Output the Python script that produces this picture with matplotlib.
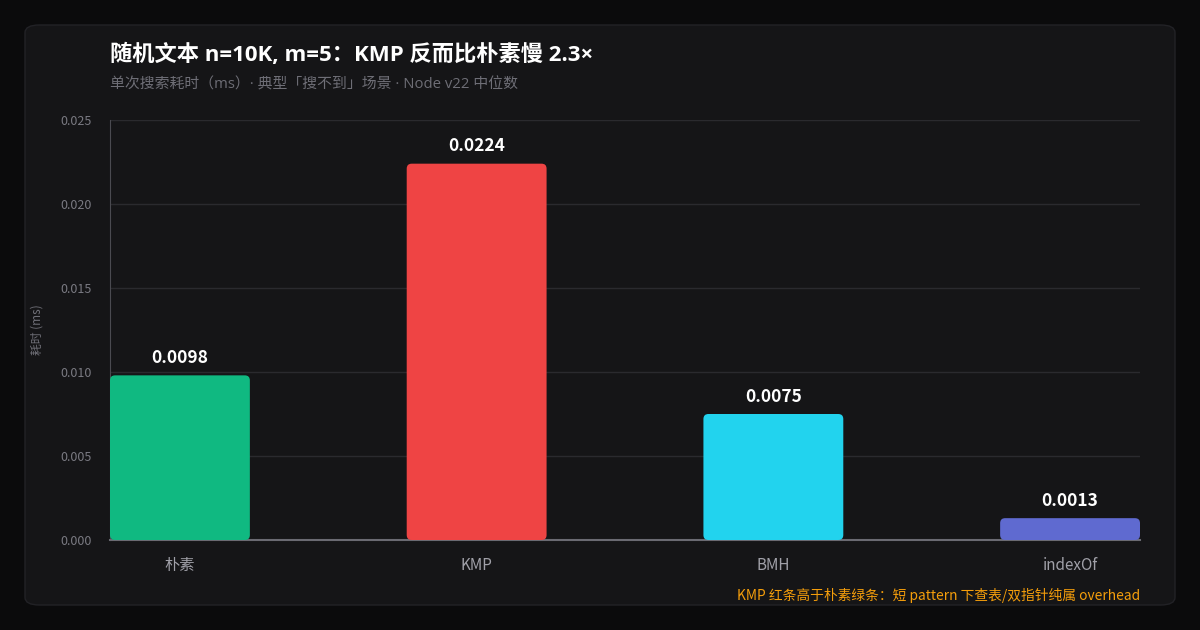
import matplotlib
matplotlib.use('Agg')
import matplotlib.pyplot as plt
from matplotlib.patches import FancyBboxPatch

plt.rcParams['font.family'] = ['Noto Sans CJK SC', 'DejaVu Sans']
MIXED = ['Open Sans', 'Noto Sans CJK SC', 'DejaVu Sans']

# data
algos = ['朴素', 'KMP', 'BMH', 'indexOf']
times_ms = [0.0098, 0.0224, 0.0075, 0.0013]
bar_colors = ['#10b981', '#ef4444', '#22d3ee', '#5f6ad0']
yticks = [0.000, 0.005, 0.010, 0.015, 0.020, 0.025]

fig = plt.figure(figsize=(12, 6.3), dpi=100)
fig.patch.set_facecolor('#0b0b0c')

# card background
card = FancyBboxPatch((25 / 1200, 25 / 630), 1150 / 1200, 580 / 630,
                      boxstyle="round,pad=0,rounding_size=0.012",
                      transform=fig.transFigure, facecolor='#151517',
                      edgecolor='#222226', linewidth=1, zorder=0)
fig.patches.append(card)

ax = fig.add_axes([110 / 1200, 90 / 630, 1030 / 1200, 420 / 630])
ax.set_zorder(2)
ax.set_facecolor('#151517')

bw = 140 / 297
ax.set_xlim(-bw / 2, 3 + bw / 2)
ax.set_ylim(0, 0.025)

# rounded bars
r = 5 / 297
asp = (0.025 / 420) / (1 / 297)
for i, (v, c) in enumerate(zip(times_ms, bar_colors)):
    p = FancyBboxPatch((i - bw / 2, 0), bw, v,
                       boxstyle=f"round,pad=0,rounding_size={r}",
                       mutation_aspect=asp, facecolor=c, edgecolor='none', zorder=3)
    ax.add_patch(p)
    ax.text(i, v + 0.0005, f"{v:.4f}", ha='center', va='bottom',
            color='white', fontsize=12.5, fontweight='bold', zorder=4)

ax.set_xticks(range(len(algos)))
ax.set_xticklabels(algos, color='#a0a0a8', fontsize=11)
ax.set_yticks(yticks)
ax.set_yticklabels([f"{t:.3f}" for t in yticks], color='#7a7a82', fontsize=9)
ax.tick_params(axis='x', length=0, pad=12)
ax.tick_params(axis='y', length=0, pad=13)
ax.grid(axis='y', color='#2a2a2e', linewidth=1, zorder=0)
ax.set_axisbelow(True)

for s in ['top', 'right']:
    ax.spines[s].set_visible(False)
ax.spines['left'].set_color('#4a4a50')
ax.spines['bottom'].set_color('#6a6a72')
ax.spines['bottom'].set_linewidth(1.5)

ax.set_ylabel('耗时 (ms)', color='#707078', fontsize=8.5)
ax.yaxis.set_label_coords(-66 / 1030, 0.5)

fig.text(110 / 1200, 1 - 55 / 630, '随机文本 n=10K, m=5：KMP 反而比朴素慢 2.3×',
         color='white', fontsize=16, fontweight='bold', va='center', ha='left',
         family=MIXED)
fig.text(110 / 1200, 1 - 85 / 630, '单次搜索耗时（ms）· 典型「搜不到」场景 · Node v22 中位数',
         color='#6e6e76', fontsize=10.7, va='center', ha='left', family=MIXED)
fig.text(1140 / 1200, 1 - 595 / 630, 'KMP 红条高于朴素绿条：短 pattern 下查表/双指针纯属 overhead',
         color='#f59e0b', fontsize=9.9, va='center', ha='right')

plt.savefig('out.png', dpi=100, facecolor=fig.get_facecolor())
plt.close()
